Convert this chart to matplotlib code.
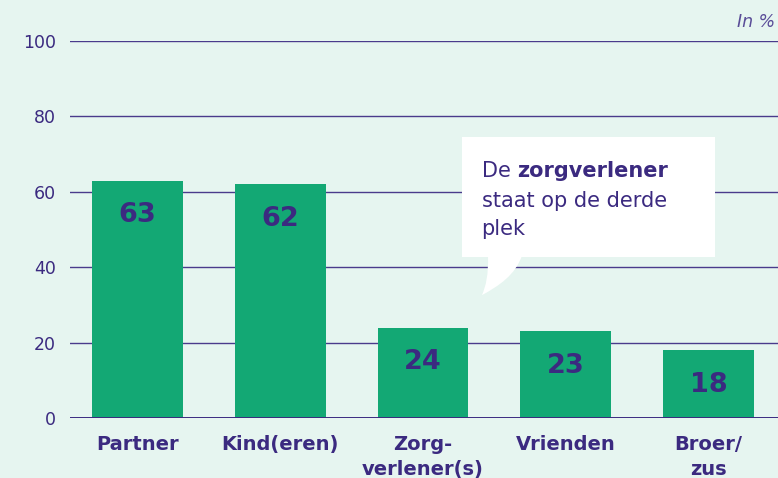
import matplotlib.pyplot as plt
from matplotlib.patches import Rectangle, PathPatch
from matplotlib.path import Path

categories = ["Partner", "Kind(eren)", "Zorg-\nverlener(s)", "Vrienden", "Broer/\nzus"]
values = [63, 62, 24, 23, 18]
yticks = [0, 20, 40, 60, 80, 100]

bg = "#e6f5f0"
green = "#13a874"
purple = "#3b2a80"

plt.rcParams['font.family'] = ['DejaVu Sans']

fig = plt.figure(figsize=(7.78, 4.78), dpi=100, facecolor=bg)
ax = fig.add_axes([0.09, 0.1255, 0.91, 0.7887])
ax.set_facecolor(bg)

x = list(range(len(categories)))
ax.bar(x, values, width=0.637, color=green, zorder=3)
for xi, v in zip(x, values):
    ax.text(xi, v - 9.2, str(v), ha="center", va="center", fontsize=19.5,
            fontweight="bold", color=purple, zorder=4)

ax.set_xlim(-0.473, 4.487)
ax.set_ylim(0, 100)
ax.set_yticks(yticks)
ax.set_yticklabels([str(t) for t in yticks], fontsize=12.5, color=purple)
ax.set_xticks(x)
ax.set_xticklabels(categories, fontsize=14, fontweight="bold", color=purple,
                   linespacing=1.45)
ax.tick_params(axis="y", length=0, pad=10)
ax.tick_params(axis="x", length=0, pad=12)
for s in ax.spines.values():
    s.set_visible(False)
for t in yticks[1:]:
    ax.axhline(t, color="#4a3b8c", lw=1.0, zorder=1)
ax.axhline(0, color=purple, lw=1.4, zorder=5)

# speech bubble
bx0, bx1, by0, by1 = 2.273, 4.046, 42.7, 74.5
ax.add_patch(Rectangle((bx0, by0), bx1 - bx0, by1 - by0, facecolor="white",
                       edgecolor="none", zorder=6))
tail = Path([(2.455, by0 + 0.5), (2.46, 38), (2.44, 35), (2.413, 32.6),
             (2.53, 35), (2.65, 38), (2.694, by0 + 0.5), (2.455, by0 + 0.5)],
            [Path.MOVETO, Path.CURVE4, Path.CURVE4, Path.CURVE4,
             Path.CURVE4, Path.CURVE4, Path.CURVE4, Path.CLOSEPOLY])
ax.add_patch(PathPatch(tail, facecolor="white", edgecolor="none", zorder=6))

tx = 2.41
fs = 15
t1 = ax.text(tx, 65.4, "De ", fontsize=fs, color=purple, va="center", zorder=7)
fig.canvas.draw()
r = fig.canvas.get_renderer()
ext = t1.get_window_extent(renderer=r)
xd = ax.transData.inverted().transform((ext.x1, 0))[0]
ax.text(xd, 65.4, "zorgverlener", fontsize=fs, fontweight="bold", color=purple,
        va="center", zorder=7)
ax.text(tx, 57.6, "staat op de derde", fontsize=fs, color=purple, va="center", zorder=7)
ax.text(tx, 50.1, "plek", fontsize=fs, color=purple, va="center", zorder=7)

fig.text(0.996, 0.953, "In %", ha="right", va="center", fontsize=12.5,
         style="italic", color="#5a4d98")

fig.savefig("out.png", dpi=100, facecolor=bg)
